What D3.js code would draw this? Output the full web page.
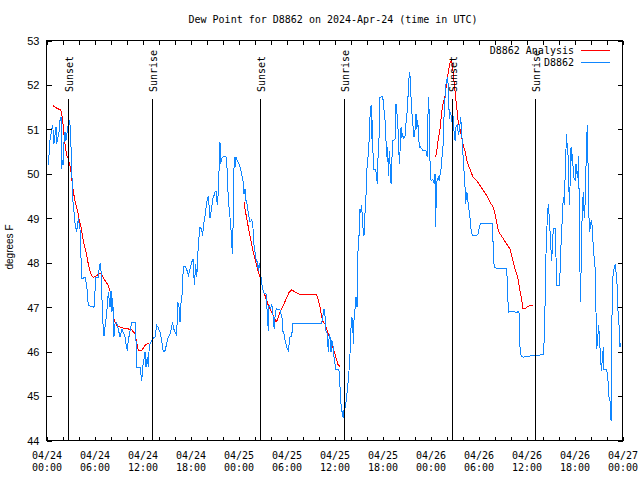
<!DOCTYPE html>
<html>
<head>
<meta charset="utf-8">
<script src="https://cdn.jsdelivr.net/npm/d3@7"></script>
<style>
  html, body { margin: 0; padding: 0; background: #fff; }
  svg { display: block; }
  .mono { font-family: "DejaVu Sans Mono", "Liberation Mono", monospace; font-size: 10px; }
  .sans { font-family: "Liberation Sans", Arial, sans-serif; }
</style>
</head>
<body>
<svg id="chart" width="640" height="480"></svg>
<script>
// ---- data (hours since 2024-04-24 00:00 UTC) ----
const chartTitle = "Dew Point for D8862 on 2024-Apr-24 (time in UTC)";
const yLabel = "degrees F";
const seriesNames = ["D8862 Analysis", "D8862"];
const yTicks = [44, 45, 46, 47, 48, 49, 50, 51, 52, 53];

const stationHours = [0.29,0.5,0.71,0.84,1.0,1.25,1.34,1.66,1.75,1.88,1.94,2.0,2.13,2.25,2.38,2.5,2.79,2.91,3.0,3.09,3.21,3.29,3.41,3.63,3.84,4.04,4.25,4.34,4.41,4.46,4.88,5.09,5.29,6.0,6.13,6.25,6.54,6.66,6.79,6.88,7.09,7.25,7.41,7.59,7.79,8.0,8.13,8.25,8.34,8.5,8.63,8.84,9.04,9.25,9.5,9.88,10.0,10.16,10.29,10.5,10.71,11.13,11.25,11.34,11.75,11.96,12.13,12.38,12.5,12.66,12.79,12.91,13.13,13.34,13.63,13.84,14.0,14.25,14.46,14.66,14.88,15.09,15.29,15.5,15.71,15.79,16.0,16.34,16.46,16.63,16.75,16.88,17.04,17.16,17.38,17.59,17.79,18.0,18.21,18.41,18.54,18.71,18.84,18.94,19.04,19.25,19.46,19.59,19.66,19.88,20.09,20.29,20.5,20.69,20.84,21.0,21.13,21.25,21.41,21.54,21.66,21.75,21.84,21.96,22.16,22.5,22.66,22.79,23.0,23.13,23.29,23.38,23.46,23.54,23.63,23.75,23.88,24.04,24.25,24.46,24.66,24.75,24.88,25.0,25.16,25.29,25.5,25.71,25.84,26.0,26.25,26.41,26.54,26.66,26.84,26.96,27.09,27.29,27.5,27.59,27.71,27.79,27.88,28.09,28.21,28.34,28.41,28.54,28.63,28.71,28.84,29.25,29.38,29.5,29.59,29.75,29.88,30.09,30.29,30.38,30.5,30.71,30.84,34.46,34.59,34.75,34.88,35.0,35.16,35.29,35.41,35.54,35.63,35.71,35.84,36.0,36.13,36.25,36.54,36.66,36.75,36.88,37.04,37.16,37.29,37.44,37.59,37.71,37.91,38.0,38.13,38.21,38.34,38.41,38.5,38.63,38.75,38.88,38.96,39.04,39.16,39.25,39.34,39.46,39.59,39.75,39.88,40.0,40.09,40.16,40.29,40.41,40.5,40.63,40.71,40.81,40.91,41.13,41.25,41.41,41.54,41.66,41.75,41.96,42.09,42.16,42.25,42.38,42.5,42.59,42.71,42.79,42.91,43.04,43.13,43.21,43.34,43.5,43.63,43.75,43.91,44.04,44.16,44.25,44.38,44.46,44.59,44.66,44.88,45.0,45.09,45.21,45.34,45.46,45.59,45.63,45.71,45.84,46.0,46.13,46.25,46.34,46.46,46.59,46.66,46.79,46.96,47.16,47.5,47.66,47.79,47.91,48.0,48.13,48.34,48.54,48.63,48.71,48.79,48.88,49.04,49.16,49.25,49.38,49.5,49.66,49.75,49.88,50.0,50.16,50.29,50.41,50.59,50.71,50.84,51.0,51.13,51.25,51.41,51.54,51.66,51.84,51.96,52.09,52.16,52.25,52.38,52.46,52.59,52.71,52.79,52.91,53.0,53.09,53.21,53.41,53.84,54.04,54.16,54.34,54.59,55.5,55.84,55.91,56.04,56.34,56.75,57.59,57.71,57.79,58.09,58.63,58.84,59.0,59.16,59.25,59.38,59.66,59.88,60.09,60.5,60.91,62.16,62.25,62.34,62.41,62.5,62.66,62.79,62.91,63.0,63.13,63.21,63.34,63.41,63.63,63.75,63.84,64.13,64.25,64.34,64.46,64.59,64.66,64.79,64.88,65.0,65.09,65.16,65.29,65.41,65.5,65.63,65.71,65.84,65.91,66.04,66.16,66.25,66.38,66.46,66.59,66.66,66.75,66.84,66.91,67.04,67.16,67.29,67.41,67.54,67.66,67.79,67.91,68.04,68.16,68.29,68.41,68.63,68.75,68.84,68.96,69.09,69.21,69.34,69.41,69.54,69.66,69.75,70.09,70.21,70.38,70.5,70.63,70.71,70.79,70.91,71.04,71.16,71.29,71.41,71.54,71.66,71.75,71.88];
const stationDew = [50.19,50.75,51.0,51.09,50.68,51.05,50.68,50.97,51.2,51.27,50.12,50.3,50.2,50.71,50.94,50.75,51.13,51.2,51.1,50.71,50.37,49.47,49.33,48.88,48.69,49.0,48.75,48.43,47.82,47.64,47.67,47.49,47.04,47.0,47.37,47.67,47.67,47.9,48.0,47.8,46.7,46.36,46.6,46.86,47.34,47.0,47.37,46.9,47.2,46.34,46.63,46.66,46.5,46.33,46.5,46.33,46.18,46.02,46.25,46.47,46.66,46.66,46.25,45.65,45.65,45.35,45.7,45.99,45.65,45.87,45.65,46.14,46.21,46.29,46.33,46.59,46.55,46.44,46.25,45.99,46.02,46.18,46.33,46.4,46.55,46.66,46.5,46.36,47.11,47.0,46.66,47.1,47.34,47.9,47.92,47.85,47.71,47.85,48.01,48.09,47.49,47.96,47.67,48.0,48.42,48.8,48.75,48.6,48.8,49.06,49.36,49.51,49.0,49.2,49.44,49.51,49.59,49.62,49.29,49.59,50.23,50.71,50.23,50.35,50.38,50.38,50.07,49.4,49.02,48.72,48.2,48.8,49.85,50.38,50.15,50.38,50.3,50.26,50.15,50.0,49.81,49.55,49.66,49.4,49.29,49.1,48.91,48.96,48.88,48.39,48.09,48.01,47.82,48.0,47.75,47.55,47.41,47.3,47.3,47.07,46.7,46.47,47.04,46.98,47.04,46.98,46.66,46.51,46.8,46.92,46.96,46.94,46.85,46.75,46.47,46.4,46.25,46.1,46.02,46.15,46.33,46.33,46.64,46.64,46.77,46.96,46.8,46.47,46.4,45.99,46.4,46.3,45.99,46.25,46.2,45.87,45.72,45.59,45.59,45.55,45.2,44.82,44.6,44.51,44.75,44.75,45.01,45.2,45.65,45.95,46.55,46.77,46.7,46.18,46.7,46.96,47.22,47.0,47.9,48.61,48.61,49.21,49.13,49.29,48.84,48.61,49.13,49.51,49.92,50.3,50.41,50.82,51.27,51.54,50.79,51.2,50.11,50.1,50.05,49.78,50.6,50.9,51.72,51.74,51.74,51.61,51.43,51.2,50.75,50.38,50.6,49.96,50.52,50.1,49.78,50.2,50.75,50.76,50.78,51.57,51.3,50.9,50.23,50.5,51.05,50.8,50.92,50.79,50.85,51.13,51.27,51.57,52.1,52.29,52.02,51.72,51.43,51.16,50.82,51.0,51.35,51.0,51.2,50.85,50.6,50.62,50.56,50.52,50.52,50.38,51.72,51.35,50.3,49.85,49.87,49.78,50.0,48.8,49.6,49.85,49.92,49.85,49.96,50.11,50.38,50.68,51.27,51.72,52.02,52.17,52.0,51.24,51.39,51.16,51.39,50.97,50.75,51.05,51.1,50.9,50.95,51.27,50.94,50.56,50.3,50.07,49.7,49.33,49.59,49.5,49.25,49.15,49.0,48.8,48.65,48.61,48.61,48.65,48.8,48.88,48.89,48.89,48.88,48.12,47.91,47.86,47.88,47.86,47.37,46.89,46.9,46.89,46.87,46.9,46.86,46.1,45.91,45.87,45.9,45.88,45.9,45.91,45.93,46.18,46.66,47.34,48.2,49.0,49.33,49.0,48.72,48.28,48.05,48.5,48.76,48.76,48.12,47.49,47.49,47.75,48.24,48.72,49.21,49.47,49.3,49.89,50.56,50.9,50.5,50.4,49.29,49.7,50.6,50.3,50.45,49.92,49.9,49.85,50.23,50.0,49.9,50.4,49.0,47.79,47.11,48.35,49.17,49.59,49.0,49.4,50.49,51.09,49.89,48.69,48.8,48.95,48.8,48.35,47.9,46.89,46.06,46.3,46.59,46.2,45.84,45.57,45.8,46.1,45.59,45.59,45.46,44.97,44.9,44.45,46.0,47.56,47.75,47.9,47.97,47.71,47.45,46.7,46.55,46.1,46.2];

// Analysis series: null marks a gap between segments
const analysisHours = [0.84,1.13,1.54,1.84,1.96,2.09,2.16,2.29,2.46,2.59,2.79,3.09,3.21,3.34,3.54,3.75,3.96,4.16,4.38,4.59,4.79,5.0,5.09,5.29,5.5,5.71,5.91,6.34,6.75,6.96,7.16,7.38,7.79,8.0,8.13,8.34,8.5,8.63,8.84,9.25,9.66,10.29,10.71,11.13,11.25,11.41,11.54,11.96,12.38,12.66,12.91,
  null,
  24.75,24.88,25.09,25.29,25.5,25.71,25.91,26.13,26.34,26.54,26.75,26.96,27.16,27.38,27.59,27.79,28.0,28.21,28.41,28.63,28.75,28.94,29.16,29.46,29.75,30.09,30.41,30.71,31.13,31.54,31.96,33.84,34.04,34.25,34.46,34.66,34.88,35.09,35.29,35.5,35.71,35.91,36.13,36.34,36.54,36.75,
  null,
  48.71,48.91,49.04,49.25,49.46,49.66,49.88,50.09,50.29,50.5,50.71,50.91,51.13,51.34,51.54,51.75,51.96,52.16,52.38,52.59,52.79,53.0,53.21,53.41,53.84,54.25,54.66,55.09,55.5,55.91,56.13,56.34,56.54,56.75,57.16,57.59,58.0,58.21,58.41,58.63,58.84,59.04,59.25,59.46,59.59,59.88,60.09,60.5,60.91];
const analysisDew = [51.54,51.5,51.46,51.44,51.35,51.2,51.05,50.79,50.56,50.41,50.34,50.11,49.92,49.7,49.47,49.29,49.17,48.95,48.8,48.57,48.39,48.25,48.16,47.97,47.82,47.71,47.67,47.71,47.76,47.74,47.67,47.6,47.49,47.37,47.19,46.96,46.74,46.66,46.59,46.55,46.53,46.51,46.49,46.4,46.29,46.14,46.02,46.02,46.14,46.18,46.18,
  null,
  49.36,49.2,49.0,48.8,48.61,48.42,48.24,48.09,47.94,47.79,47.67,47.52,47.37,47.26,47.15,47.04,46.96,46.89,46.81,46.74,46.66,46.72,46.85,46.96,47.07,47.22,47.34,47.39,47.34,47.3,47.28,47.28,47.15,47.0,46.77,46.66,46.62,46.51,46.4,46.29,46.18,46.06,45.95,45.8,45.69,45.67,
  null,
  50.38,50.6,50.79,51.0,51.4,51.61,51.75,52.05,52.3,52.5,52.55,52.27,51.85,51.5,51.15,51.01,50.82,50.64,50.52,50.32,50.2,50.11,50.0,49.92,49.85,49.74,49.63,49.51,49.36,49.25,49.1,48.91,48.72,48.65,48.54,48.42,48.31,48.16,48.01,47.86,47.75,47.6,47.37,47.19,46.96,46.96,47.0,47.04,47.05];

const sunEvents = ["Sunset", "Sunrise", "Sunset", "Sunrise", "Sunset", "Sunrise"];
const sunHours = [2.78, 13.28, 26.78, 37.28, 50.75, 61.22];

// ---- drawing ----
const START = Date.UTC(2024, 3, 24, 0, 0);
const toDate = h => new Date(START + h * 3600e3);
const L = 46.5, R = 622.5, T = 40.5, B = 440.5;

const svg = d3.select("#chart");
const x = d3.scaleUtc().domain([toDate(0), toDate(72)]).range([L - 0.5, R - 0.5]);
const y = d3.scaleLinear().domain([44, 53]).range([B, T]);

const blue = "#0f86ff", red = "#ff0000";

// data lines
const analysisPts = analysisHours.map((h, i) => ({ h, v: analysisDew[i] }));
const stationPts = stationHours.map((h, i) => ({ h, v: stationDew[i] }));
const line = d3.line()
  .defined(d => d.h !== null && d.v !== null)
  .x(d => x(toDate(d.h)))
  .y(d => y(d.v));

svg.append("path").datum(analysisPts)
  .attr("d", line).attr("fill", "none").attr("stroke", red)
  .attr("stroke-width", 1).attr("shape-rendering", "crispEdges");
svg.append("path").datum(stationPts)
  .attr("d", line).attr("fill", "none").attr("stroke", blue)
  .attr("stroke-width", 1).attr("shape-rendering", "crispEdges");

// sunrise/sunset markers
const sun = svg.append("g");
sunHours.forEach((h, i) => {
  const sx = Math.floor(x(toDate(h))) + 0.5;
  sun.append("line").attr("x1", sx).attr("x2", sx).attr("y1", 99).attr("y2", B)
    .attr("stroke", "#000").attr("stroke-width", 1).attr("shape-rendering", "crispEdges");
  sun.append("text").attr("class", "mono")
    .attr("transform", `translate(${sx + 4.5},92) rotate(-90)`)
    .attr("text-anchor", "start").attr("fill", "#000").text(sunEvents[i]);
});

// axes
const xs = d3.scaleUtc().domain(x.domain()).range([L, R]);
const xTickVals = d3.utcHour.every(2).range(toDate(0), toDate(72.01));
const fmtD = d3.utcFormat("%m/%d"), fmtT = d3.utcFormat("%H:%M");
const tickFmt = d => d.getUTCHours() % 6 === 0 ? fmtD(d) + "|" + fmtT(d) : "";

const gx = svg.append("g").attr("transform", `translate(0,${B})`)
  .call(d3.axisBottom(xs).tickValues(xTickVals).tickSize(-4).tickFormat(tickFmt));
gx.select(".domain").remove();
gx.selectAll(".tick line").attr("shape-rendering", "crispEdges");
gx.selectAll(".tick text").each(function () {
  const t = d3.select(this); const s = t.text(); t.text("");
  t.attr("dy", null).attr("y", null).attr("class", "mono");
  if (!s) return;
  const [a, b] = s.split("|");
  t.append("tspan").attr("x", 0).attr("y", 18).text(a);
  t.append("tspan").attr("x", 0).attr("y", 30).text(b);
});
gx.attr("font-size", null).attr("font-family", null);

const gxt = svg.append("g").attr("transform", `translate(0,${T})`)
  .call(d3.axisTop(xs).tickValues(xTickVals).tickSize(-4).tickFormat(""));
gxt.select(".domain").remove();
gxt.selectAll(".tick line").attr("shape-rendering", "crispEdges");

const gy = svg.append("g").attr("transform", `translate(${L},0)`)
  .call(d3.axisLeft(y).tickValues(yTicks).tickSize(-5).tickPadding(7).tickFormat(d3.format("d")));
gy.select(".domain").remove();
gy.attr("font-size", null).attr("font-family", null);
gy.selectAll(".tick line").attr("shape-rendering", "crispEdges");
gy.selectAll(".tick text").attr("class", "sans").style("font-size", "11px").attr("dy", "0.35em");

const gyr = svg.append("g").attr("transform", `translate(${R},0)`)
  .call(d3.axisRight(y).tickValues(yTicks).tickSize(-5).tickFormat(""));
gyr.select(".domain").remove();
gyr.selectAll(".tick line").attr("shape-rendering", "crispEdges");

// frame
svg.append("rect").attr("x", L).attr("y", T).attr("width", R - L).attr("height", B - T)
  .attr("fill", "none").attr("stroke", "#000").attr("stroke-width", 1).attr("shape-rendering", "crispEdges");

// title & labels
svg.append("text").attr("class", "mono").attr("x", 333).attr("y", 23)
  .attr("text-anchor", "middle").text(chartTitle);
svg.append("text").attr("class", "sans").style("font-size", "10px")
  .attr("transform", "translate(13,247) rotate(-90)").attr("text-anchor", "middle").text(yLabel);

// legend
const legColors = [red, blue];
const legY = [50.5, 62.5];
seriesNames.forEach((n, i) => {
  svg.append("text").attr("class", "mono").attr("x", 574).attr("y", legY[i] + 3.5)
    .attr("text-anchor", "end").text(n);
  svg.append("line").attr("x1", 581).attr("x2", 610).attr("y1", legY[i] - 0.5).attr("y2", legY[i] - 0.5)
    .attr("stroke", legColors[i]).attr("stroke-width", 1).attr("shape-rendering", "crispEdges");
});
</script>
</body>
</html>
